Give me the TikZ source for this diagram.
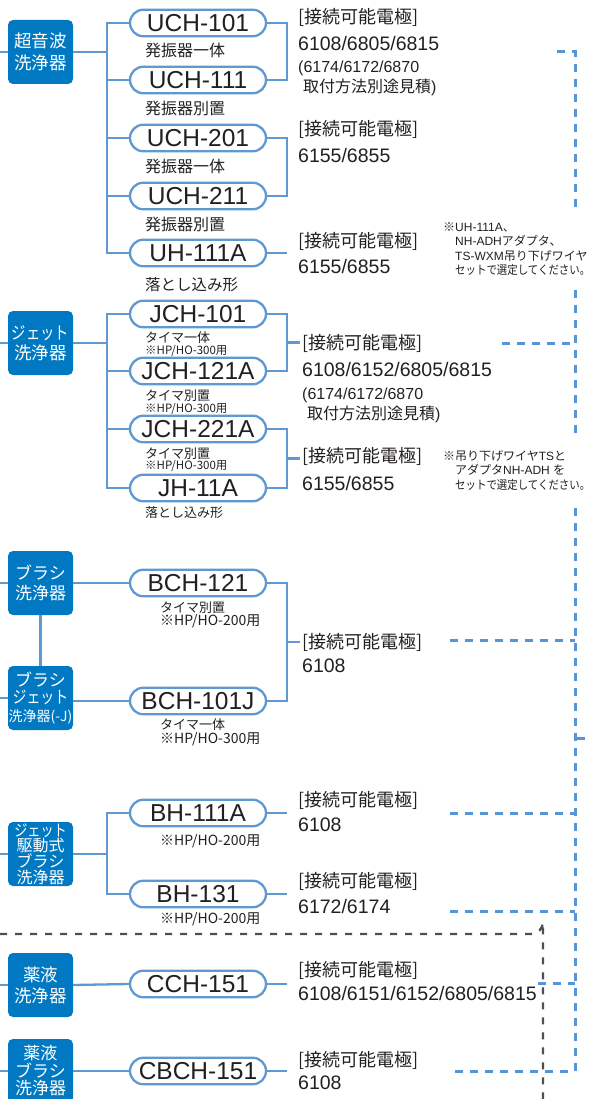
\documentclass[tikz,border=0pt]{standalone}
\usepackage{fontspec}
\setmainfont{Liberation Sans}
\newfontfamily\jp{Noto Sans CJK JP}
\usetikzlibrary{calc}
\definecolor{boxblue}{RGB}{0,121,194}
\definecolor{lineblue}{RGB}{96,152,209}
\definecolor{dashblue}{RGB}{88,149,214}
\definecolor{txt}{RGB}{35,31,32}
\definecolor{graydash}{RGB}{80,80,80}
\newcommand{\jfs}[2]{\jp\fontsize{#1}{#2}\selectfont}
\newcommand{\cond}[1]{\scalebox{0.82}[1]{#1}}
\newcommand{\nar}[1]{\scalebox{0.87}[1]{#1}}
\begin{document}
\begin{tikzpicture}[x=1pt,y=-1pt,
  cat/.style={fill=boxblue, rounded corners=5pt, minimum width=65pt, minimum height=64pt, text=white, align=center, inner sep=0pt},
  pill/.style={draw=lineblue, line width=2.3pt, fill=white, rounded corners=13.25pt, minimum width=136pt, minimum height=26.5pt, inner sep=0pt, font=\fontsize{24.5}{24.5}\selectfont, text=txt},
  conn/.style={draw=lineblue, line width=2.3pt},
  bdash/.style={draw=dashblue, line width=3pt, dash pattern=on 8pt off 7pt},
  gdash/.style={draw=graydash, line width=2.3pt, dash pattern=on 7pt off 8pt},
  lbl/.style={anchor=west, inner sep=0pt, text=txt, font=\jfs{18}{18}},
  num/.style={anchor=west, inner sep=0pt, text=txt, font=\fontsize{19.5}{19.5}\selectfont},
  est/.style={anchor=west, inner sep=0pt, text=txt, font=\fontsize{16}{16}\selectfont},
  sub/.style={anchor=west, inner sep=0pt, text=txt, font=\jfs{16}{16}},
  subs/.style={anchor=west, inner sep=0pt, text=txt, font=\jfs{13}{13}},
  hp/.style={anchor=west, inner sep=0pt, text=txt, font=\jfs{11.5}{11.5}},
  hpl/.style={anchor=west, inner sep=0pt, text=txt, font=\jfs{14}{14}},
  memo/.style={anchor=west, inner sep=0pt, text=txt, align=left, font=\fontsize{12}{14.5}\selectfont},
]
\useasboundingbox (0,0) rectangle (590,1099);
\coordinate (t1) at (107,0);
\coordinate (bx) at (287,0);

% category boxes
\node[cat, font=\jfs{17.5}{22}] (c1) at (40.5,52) {超音波\\洗浄器};
\node[cat, font=\jfs{17.5}{20}] (c2) at (40.5,343) {\cond{ジェット}\\洗浄器};
\node[cat, font=\jfs{17}{20}] (c3) at (40.5,583) {ブラシ\\洗浄器};
\node[cat, font=\jfs{17}{17.5}] (c4) at (40.5,698) {ブラシ\\\cond{ジェット}\\{\fontsize{14}{17.5}\selectfont 洗浄器(-J)}};
\node[cat, font=\jfs{16}{15.7}] (c5) at (40.5,854) {\cond{ジェット}\\駆動式\\ブラシ\\洗浄器};
\node[cat, font=\jfs{17.5}{21}] (c6) at (40.5,985) {薬液\\洗浄器};
\node[cat, font=\jfs{17}{17.5}] (c7) at (40.5,1071) {薬液\\ブラシ\\洗浄器};

% pills
\node[pill] (p1) at (198,23) {UCH-101};
\node[pill] (p2) at (198,80) {UCH-111};
\node[pill] (p3) at (198,138) {UCH-201};
\node[pill] (p4) at (198,196) {UCH-211};
\node[pill] (p5) at (198,253) {UH-111A};
\node[pill] (p6) at (198,314) {JCH-101};
\node[pill] (p7) at (198,371) {JCH-121A};
\node[pill] (p8) at (198,429) {JCH-221A};
\node[pill] (p9) at (198,488) {JH-11A};
\node[pill] (p10) at (198,583) {BCH-121};
\node[pill] (p11) at (198,701) {BCH-101J};
\node[pill] (p12) at (198,813) {BH-111A};
\node[pill] (p13) at (198,894) {BH-131};
\node[pill] (p14) at (198,984) {CCH-151};
\node[pill] (p15) at (198,1071) {CBCH-151};

% left stubs
\foreach \c in {c1,c2,c3,c4,c5,c6,c7}
  \draw[conn] (\c.west) -- ++(-9,0);

% group 1
\draw[conn] (c1.east) -- (c1.east -| t1);
\draw[conn] (p1.west) -- (p1.west -| t1) -- (p5.west -| t1) -- (p5.west);
\foreach \p in {p2,p3,p4}
  \draw[conn] (\p.west -| t1) -- (\p.west);
\draw[conn] (p1.east) -- (p1.east -| bx) -- (p2.east -| bx) -- (p2.east);
\draw[conn] (p3.east) -- (p3.east -| bx) -- (p4.east -| bx) -- (p4.east);
\draw[conn] (p5.east) -- (p5.east -| bx);

% group 2
\draw[conn] (c2.east) -- (c2.east -| t1);
\draw[conn] (p6.west) -- (p6.west -| t1) -- (p9.west -| t1) -- (p9.west);
\foreach \p in {p7,p8}
  \draw[conn] (\p.west -| t1) -- (\p.west);
\draw[conn] (p6.east) -- (p6.east -| bx) -- (p7.east -| bx) -- (p7.east);
\draw[conn] (p8.east) -- (p8.east -| bx) -- (p9.east -| bx) -- (p9.east);
\draw[conn] ($(p6.east -| bx)!0.5!(p7.east -| bx)$) -- ++(13,0);
\draw[conn] ($(p8.east -| bx)!0.5!(p9.east -| bx)$) -- ++(13,0);

% group 3
\draw[conn] (c3.east) -- (p10.west);
\draw[conn] (p11.west -| c4.east) -- (p11.west);
\draw[conn] (c3.south) -- (c4.north);
\draw[conn] (p10.east) -- (p10.east -| bx) -- (p11.east -| bx) -- (p11.east);
\draw[conn] ($(p10.east -| bx)!0.5!(p11.east -| bx)$) -- ++(13,0);

% group 4
\draw[conn] (c5.east) -- (c5.east -| t1);
\draw[conn] (p12.west) -- (p12.west -| t1) -- (p13.west -| t1) -- (p13.west);
\draw[conn] (p12.east) -- (p12.east -| bx);
\draw[conn] (p13.east) -- (p13.east -| bx);

% group 5
\draw[conn] (c6.east) -- (p14.west);
\draw[conn] (p14.east) -- (p14.east -| bx);
\draw[conn] (p15.west -| c7.east) -- (p15.west);
\draw[conn] (p15.east) -- (p15.east -| bx);

% subtitles
\node[sub] (s1) at (145,50) {発振器一体};
\node[sub] (s2) at (145,108) {発振器別置};
\node[sub] (s3) at (145,166) {発振器一体};
\node[sub] (s4) at (145,224) {発振器別置};
\node[sub, font=\jfs{15.5}{15.5}] (s5) at (145,285) {落とし込み形};
\node[subs] (s6) at (145,338) {タイマ一体};
\node[hp] (s6b) at (145,351) {※HP/HO-300用};
\node[subs] (s7) at (145,396) {タイマ別置};
\node[hp] (s7b) at (145,409) {※HP/HO-300用};
\node[subs] (s8) at (145,454) {タイマ別置};
\node[hp] (s8b) at (145,466) {※HP/HO-300用};
\node[subs] (s9) at (145,513) {落とし込み形};
\node[subs] (s10) at (160,608) {タイマ別置};
\node[hpl] (s10b) at (160,621) {※HP/HO-200用};
\node[subs] (s11) at (160,725) {タイマ一体};
\node[hpl] (s11b) at (160,739) {※HP/HO-300用};
\node[hpl] (s12) at (160,841) {※HP/HO-200用};
\node[hpl] (s13) at (160,919) {※HP/HO-200用};

% electrode texts
\node[lbl] (e1) at (298,17) {[接続可能電極]};
\node[num] (e1n) at (298,44) {6108/6805/6815};
\node[est] (e1a) at (298,68) {(6174/6172/6870};
\node[est] (e1b) at (298,87) {\hspace*{5pt}{\jp 取付方法別途見積})};
\node[lbl] (e2) at (298,129) {[接続可能電極]};
\node[num] (e2n) at (298,156) {6155/6855};
\node[lbl] (e3) at (298,241) {[接続可能電極]};
\node[num] (e3n) at (298,267) {6155/6855};
\node[lbl] (e4) at (302,343) {[接続可能電極]};
\node[num] (e4n) at (302,370) {6108/6152/6805/6815};
\node[est] (e4a) at (302,395) {(6174/6172/6870};
\node[est] (e4b) at (302,414) {\hspace*{5pt}{\jp 取付方法別途見積})};
\node[lbl] (e5) at (302,456) {[接続可能電極]};
\node[num] (e5n) at (302,484) {6155/6855};
\node[lbl] (e6) at (302,642) {[接続可能電極]};
\node[num] (e6n) at (302,666) {6108};
\node[lbl] (e7) at (298,800) {[接続可能電極]};
\node[num] (e7n) at (298,825) {6108};
\node[lbl] (e8) at (298,881) {[接続可能電極]};
\node[num] (e8n) at (298,907) {6172/6174};
\node[lbl] (e9) at (298,970) {[接続可能電極]};
\node[num] (e9n) at (298,994) {6108/6151/6152/6805/6815};
\node[lbl] (e10) at (298,1060) {[接続可能電極]};
\node[num] (e10n) at (298,1083) {6108};

% notes
\node[memo] (m1) at (443,249) {{\jp ※}UH-111A{\jp 、}\\\hspace*{12pt}NH-ADH{\jp アダプタ、}\\\hspace*{12pt}TS-WXM{\jp 吊り下げワイヤ}\\\hspace*{12pt}\nar{\jp セットで選定してください。}};
\node[memo] (m2) at (443,470.5) {{\jp ※吊り下げワイヤ}TS{\jp と}\\\hspace*{12pt}{\jp アダプタ}NH-ADH {\jp を}\\\hspace*{12pt}\nar{\jp セットで選定してください。}};

% blue dashed bus
\coordinate (v0) at (575,52);
\draw[bdash] (557,52) -- (v0) -- (575,207);
\draw[bdash] (575,290) -- (575,437);
\draw[bdash] (575,508) -- (575,1071) -- (455,1071);
\draw[bdash] (502,343) -- (575,343);
\draw[bdash] (450,640) -- (575,640);
\draw[bdash] (450,813) -- (575,813);
\draw[bdash] (450,911) -- (575,911);
\draw[bdash] (538,983) -- (575,983);
\draw[bdash] (577,738) -- (592,738);

% gray dashed frame
\draw[gdash] (0,934) -- (531,934) arc[start angle=90, end angle=0, radius=12] -- (543,1105);
\end{tikzpicture}
\end{document}
